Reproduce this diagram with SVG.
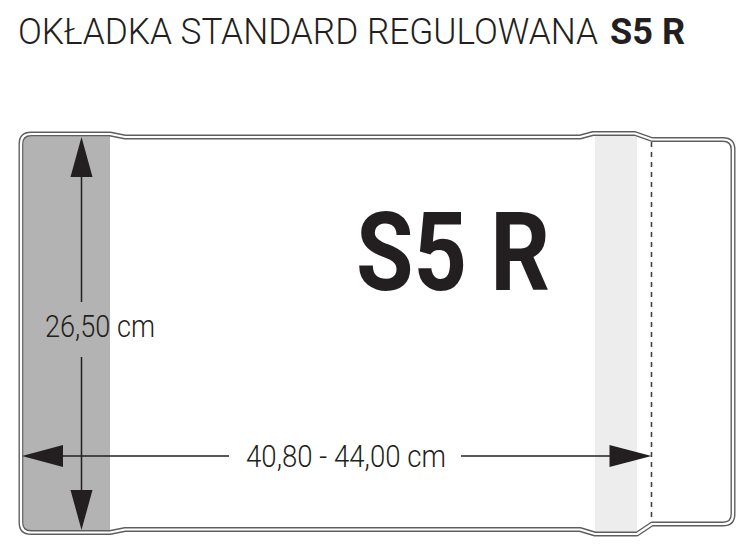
<svg xmlns="http://www.w3.org/2000/svg" width="750" height="550" viewBox="0 0 750 550">
<style>
.t{font-family:Roboto,"Liberation Sans",sans-serif;fill:#231f20}
.lt{font-weight:300}
.bd{font-weight:700}
.dim{stroke:#231f20;stroke-width:1.5;fill:none}
.head{fill:#231f20}
</style>
<rect width="750" height="550" fill="#ffffff"/>
<g id="title">
<text class="t lt" x="18" y="44" font-size="36" textLength="580" lengthAdjust="spacingAndGlyphs">OKŁADKA STANDARD REGULOWANA</text>
<text class="t bd" x="610" y="44" font-size="36" textLength="75" lengthAdjust="spacingAndGlyphs">S5 R</text>
</g>
<g id="cover">
<path id="spine" d="M110,136.5 L31,136.5 Q23.5,136.5 23.5,144 L23.5,522 Q23.5,530.5 31,530.5 L110,530.5 Z" fill="#b3b3b3"/>
<rect id="fold-band" x="595" y="135" width="42" height="397" fill="#ededed"/>
<line id="fold-line" x1="651.5" y1="142" x2="651.5" y2="522" stroke="#444" stroke-width="1.6" stroke-dasharray="5,5"/>
<path id="outline-outer" d="M21,144 Q21,134 31,134 L110,134 L125,137 L580,137 L593,133.5 L635,133.5 L652,139.5 L723,139.5 Q733,139.5 733,149.5 L733,514 Q733,524 723,524 L652,524 L637,534 L595,534 L580,529.5 L125,529.5 L110,532.5 L31,532.5 Q21,532.5 21,522.5 Z" fill="none" stroke="#5e5e5e" stroke-width="5" stroke-linejoin="round"/>
<path id="outline-inner" d="M21,144 Q21,134 31,134 L110,134 L125,137 L580,137 L593,133.5 L635,133.5 L652,139.5 L723,139.5 Q733,139.5 733,149.5 L733,514 Q733,524 723,524 L652,524 L637,534 L595,534 L580,529.5 L125,529.5 L110,532.5 L31,532.5 Q21,532.5 21,522.5 Z" fill="none" stroke="#ffffff" stroke-width="2.2" stroke-linejoin="round"/>
</g>
<g id="model-label">
<text class="t bd" x="356" y="290" font-size="110" textLength="194" lengthAdjust="spacingAndGlyphs">S5 R</text>
</g>
<g id="connectors">
<line class="dim" x1="81.5" y1="176" x2="81.5" y2="302"/>
<line class="dim" x1="81.5" y1="357" x2="81.5" y2="491"/>
<polygon class="head" points="81.5,137 70.5,177 92.5,177"/>
<polygon class="head" points="81.5,530 70.5,490 92.5,490"/>
<line class="dim" x1="62" y1="456" x2="229" y2="456"/>
<line class="dim" x1="461" y1="456" x2="610" y2="456"/>
<polygon class="head" points="22,456 63,445 63,467"/>
<polygon class="head" points="651.5,456 609.5,445 609.5,467"/>
</g>
<g id="height-label">
<text class="t lt" x="45" y="337" font-size="31" textLength="110" lengthAdjust="spacingAndGlyphs">26,50 cm</text>
</g>
<g id="width-label">
<text class="t lt" x="246" y="467" font-size="31" textLength="200" lengthAdjust="spacingAndGlyphs">40,80 - 44,00 cm</text>
</g>
</svg>
